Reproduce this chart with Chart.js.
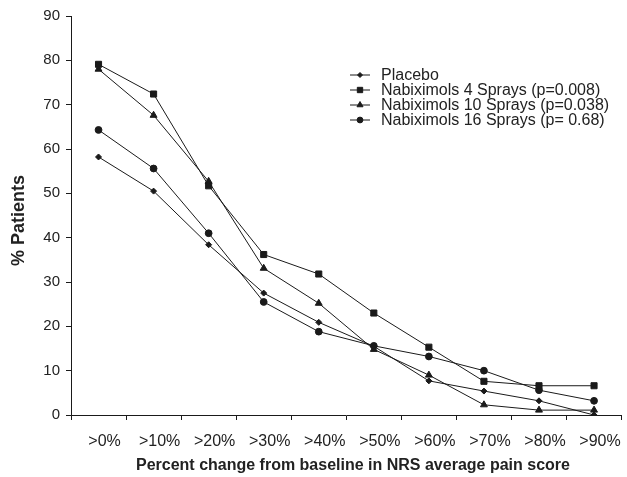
<!DOCTYPE html>
<html>
<head>
<meta charset="utf-8">
<script src="https://cdn.jsdelivr.net/npm/chart.js@4.4.0/dist/chart.umd.min.js"></script>
<style>
  html, body { margin: 0; padding: 0; background: #fff; }
  #wrap { width: 627px; height: 477px; }
</style>
</head>
<body>
<div id="wrap"><canvas id="chart" width="627" height="477"></canvas></div>
<script>
const categories = ['>0%', '>10%', '>20%', '>30%', '>40%', '>50%', '>60%', '>70%', '>80%', '>90%'];
const seriesNames = [
    'Placebo',
    'Nabiximols 4 Sprays (p=0.008)',
    'Nabiximols 10 Sprays (p=0.038)',
    'Nabiximols 16 Sprays (p= 0.68)'
];
const placebo = [58.2, 50.5, 38.4, 27.5, 20.9, 15.5, 7.7, 5.4, 3.2, 0];
const sprays4 = [79.1, 72.4, 51.7, 36.2, 31.8, 23.0, 15.3, 7.6, 6.6, 6.6];
const sprays10 = [78.0, 67.6, 52.7, 33.1, 25.2, 14.8, 9.0, 2.3, 1.1, 1.1];
const sprays16 = [64.3, 55.6, 41.0, 25.5, 18.8, 15.6, 13.2, 10.0, 5.6, 3.2];
const yTicks = [0, 10, 20, 30, 40, 50, 60, 70, 80, 90];

const INK = '#1a1a1a';
const TEXT = '#222';
const FONT = "'Liberation Sans', Arial, sans-serif";

function makeSet(label, data, style, radius) {
    return {
        label: label,
        data: data,
        borderColor: INK,
        backgroundColor: INK,
        borderWidth: 1,
        pointStyle: style,
        pointRadius: radius,
        pointBackgroundColor: INK,
        pointBorderColor: INK,
        pointBorderWidth: 1,
        tension: 0
    };
}

// legend sits inside the plot, as in the original figure
const insideLegend = {
    id: 'insideLegend',
    afterDatasetsDraw(chart) {
        const ctx = chart.ctx;
        const x0 = chart.chartArea.left + 279;
        const y0 = 75;
        ctx.save();
        ctx.font = '16px ' + FONT;
        ctx.textBaseline = 'middle';
        chart.data.datasets.forEach((ds, i) => {
            const y = y0 + i * 15;
            ctx.strokeStyle = INK;
            ctx.lineWidth = 1;
            ctx.beginPath();
            ctx.moveTo(x0, y);
            ctx.lineTo(x0 + 20, y);
            ctx.stroke();
            ctx.fillStyle = INK;
            Chart.helpers.drawPoint(ctx, {
                pointStyle: ds.pointStyle,
                radius: ds.pointRadius - 0.5,
                rotation: 0,
                borderWidth: 1
            }, x0 + 10, y);
            ctx.fillStyle = TEXT;
            ctx.fillText(ds.label, x0 + 31, y + 1);
        });
        ctx.restore();
    }
};

new Chart(document.getElementById('chart'), {
    type: 'line',
    data: {
        labels: categories,
        datasets: [
            makeSet(seriesNames[0], placebo, 'rectRot', 3),
            makeSet(seriesNames[1], sprays4, 'rect', 4.3),
            makeSet(seriesNames[2], sprays10, 'triangle', 4),
            makeSet(seriesNames[3], sprays16, 'circle', 3.4)
        ]
    },
    options: {
        responsive: false,
        animation: false,
        layout: { padding: { top: 16, right: 2, left: 0, bottom: 0 } },
        plugins: {
            legend: { display: false },
            tooltip: { enabled: false }
        },
        scales: {
            x: {
                offset: true,
                grid: { display: true, drawOnChartArea: false, drawTicks: true, tickLength: 5, color: INK, offset: true },
                border: { display: true, color: INK, width: 1 },
                ticks: { color: TEXT, font: { family: FONT, size: 16 }, padding: 12, labelOffset: 6, maxRotation: 0, autoSkip: false },
                title: {
                    display: true,
                    text: '   Percent change from baseline in NRS average pain score',
                    color: TEXT,
                    font: { family: FONT, size: 16, weight: 'bold' },
                    padding: { top: 0, bottom: 2 }
                },
                afterFit(scale) { scale.height = 62; }
            },
            y: {
                min: 0,
                max: 90,
                afterBuildTicks(scale) { scale.ticks = yTicks.map(v => ({ value: v })); },
                grid: { display: true, drawOnChartArea: false, drawTicks: true, tickLength: 5, color: INK },
                border: { display: true, color: INK, width: 1 },
                ticks: { color: TEXT, font: { family: FONT, size: 15 }, padding: 6 },
                title: {
                    display: true,
                    text: '% Patients  ',
                    color: TEXT,
                    font: { family: FONT, size: 18, weight: 'bold' },
                    padding: { top: 8, bottom: 0 }
                },
                afterFit(scale) { scale.width = 71; }
            }
        }
    },
    plugins: [insideLegend]
});
</script>
</body>
</html>
